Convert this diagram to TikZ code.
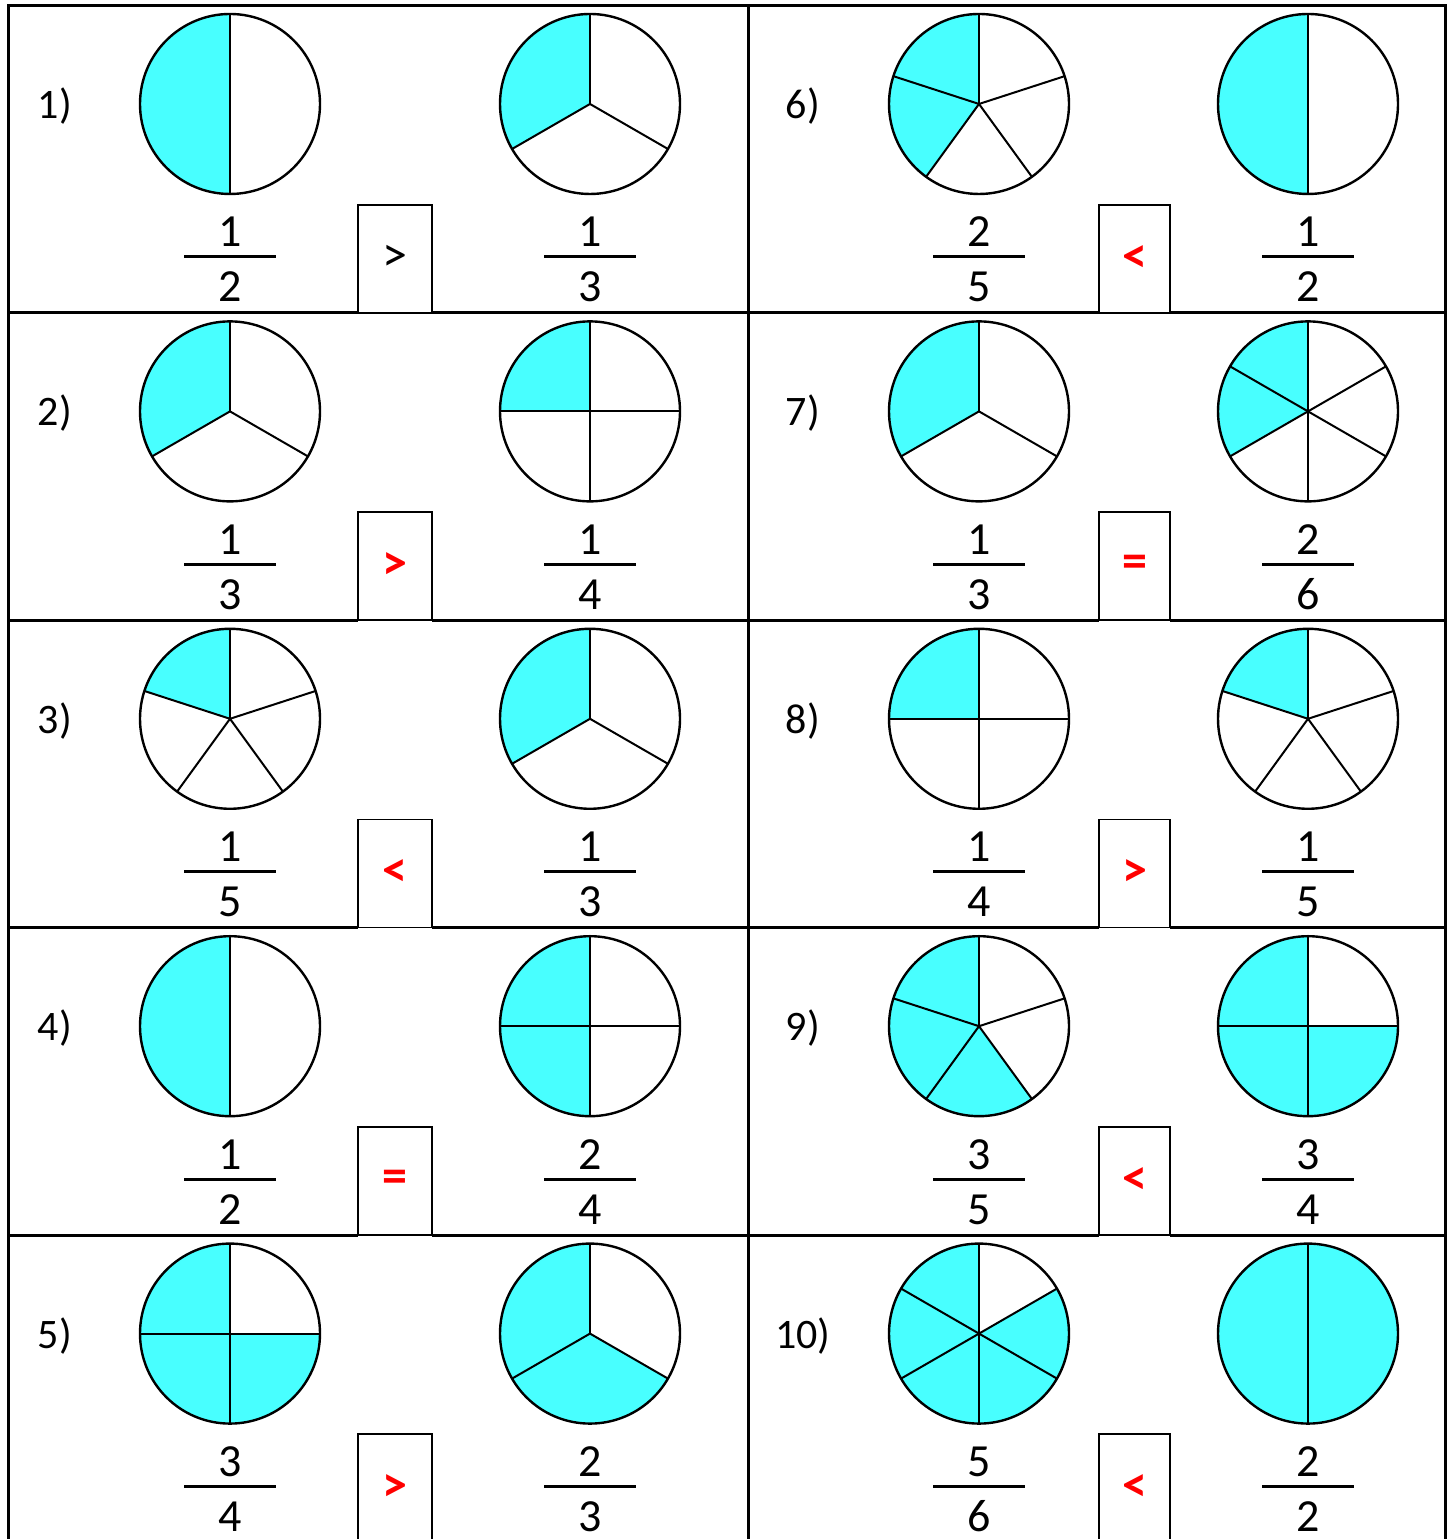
\documentclass[tikz,border=0pt]{standalone}
\usepackage{fontspec}
\setmainfont{Carlito}
\definecolor{piecyan}{RGB}{72,255,255}
\definecolor{symred}{RGB}{255,0,0}
\tikzset{
  grid line/.style={line width=3pt},
  pie edge/.style={line width=2.4pt},
  pie spoke/.style={line width=2pt},
  cmpbox/.style={draw, line width=1.8pt, rectangle, inner sep=0pt, minimum height=108pt},
  sym plain/.style={font=\fontsize{50}{50}\selectfont},
  sym red/.style={font=\fontsize{50}{50}\selectfont\bfseries, text=symred},
  label text/.style={font=\fontsize{42}{42}\selectfont, inner sep=0pt, anchor=base},
  frac text/.style={font=\fontsize{46}{46}\selectfont, inner sep=0pt, anchor=base},
  frac bar/.style={line width=3pt},
}
\newcommand\colA{\def\xl{55}\def\xa{230}\def\xbl{358}\def\xbr{432}\def\xb{590}\def\xL{8}\def\xR{748.5}}
\newcommand\colB{\def\xl{803}\def\xa{979}\def\xbl{1099}\def\xbr{1170}\def\xb{1308}\def\xL{748.5}\def\xR{1445.5}}
\newcommand\pie[4]{% cx cy n k
  \fill[piecyan] (#1,#2) -- ++(90:90) arc[start angle=90, delta angle={360*#4/#3}, radius=90] -- cycle;
  \foreach \i in {1,...,#3}{\draw[pie spoke] (#1,#2) -- ++({90+360*(\i-1)/#3}:90);}
  \draw[pie edge] (#1,#2) circle[radius=90];
}
\newcommand\problem[9]{%
  #1%
  \pgfmathsetmacro\tp{1539-(5.5+307.4*#2)}%
  \pgfmathsetmacro\cy{\tp-98.5}%
  \pgfmathsetmacro\ly{\tp-113}%
  \pgfmathsetmacro\ny{\tp-241.5}%
  \pgfmathsetmacro\by{\tp-251.5}%
  \pgfmathsetmacro\dy{\tp-296.5}%
  \pgfmathsetmacro\bxc{(\xbl+\xbr)/2}%
  \pgfmathsetmacro\bw{\xbr-\xbl}%
  \pgfmathsetmacro\bcy{\tp-(199+307.4)/2}%
  \pgfmathsetmacro\rl{\tp-307.4}%
  \node[label text] (lab#3) at (\xl,\ly) {#3)};
  \pie{\xa}{\cy}{#4}{#5}
  \pie{\xb}{\cy}{#6}{#7}
  \node[frac text] (na#3) at (\xa,\ny) {#5};
  \node[frac text] (da#3) at (\xa,\dy) {#4};
  \coordinate (bal#3) at ({\xa-46},\by);
  \coordinate (bar#3) at ({\xa+46},\by);
  \draw[frac bar] (bal#3) -- (bar#3);
  \node[frac text] (nb#3) at (\xb,\ny) {#7};
  \node[frac text] (db#3) at (\xb,\dy) {#6};
  \coordinate (bbl#3) at ({\xb-46},\by);
  \coordinate (bbr#3) at ({\xb+46},\by);
  \draw[frac bar] (bbl#3) -- (bbr#3);
  \node[cmpbox, minimum width=\bw pt, #9] (box#3) at (\bxc,\bcy) {#8};
  \coordinate (rla#3) at (\xL,\rl);
  \coordinate (rlb#3) at (\xbl,\rl);
  \coordinate (rlc#3) at (\xbr,\rl);
  \coordinate (rld#3) at (\xR,\rl);
  \draw[grid line] (rla#3) -- (rlb#3) (rlc#3) -- (rld#3);
}
\begin{document}
\begin{tikzpicture}[x=1pt,y=1pt]
\useasboundingbox (0,0) rectangle (1452,1539);
\clip (0,0) rectangle (1452,1539);
\fill[white] (0,0) rectangle (1452,1539);
\problem{\colA}{0}{1}{2}{1}{3}{1}{>}{sym plain}
\problem{\colA}{1}{2}{3}{1}{4}{1}{>}{sym red}
\problem{\colA}{2}{3}{5}{1}{3}{1}{<}{sym red}
\problem{\colA}{3}{4}{2}{1}{4}{2}{=}{sym red}
\problem{\colA}{4}{5}{4}{3}{3}{2}{>}{sym red}
\problem{\colB}{0}{6}{5}{2}{2}{1}{<}{sym red}
\problem{\colB}{1}{7}{3}{1}{6}{2}{=}{sym red}
\problem{\colB}{2}{8}{4}{1}{5}{1}{>}{sym red}
\problem{\colB}{3}{9}{5}{3}{4}{3}{<}{sym red}
\problem{\colB}{4}{10}{6}{5}{2}{2}{<}{sym red}
% outer frame
\coordinate (tl) at (8,1533.5);
\coordinate (tm) at (748.5,1533.5);
\coordinate (tr) at (1445.5,1533.5);
\coordinate (bl) at (8,-10);
\coordinate (bm) at (748.5,-10);
\coordinate (br) at (1445.5,-10);
\draw[grid line, line cap=rect] (bl) -- (tl) -- (tr) -- (br);
\draw[grid line] (tm) -- (bm);
\end{tikzpicture}
\end{document}
